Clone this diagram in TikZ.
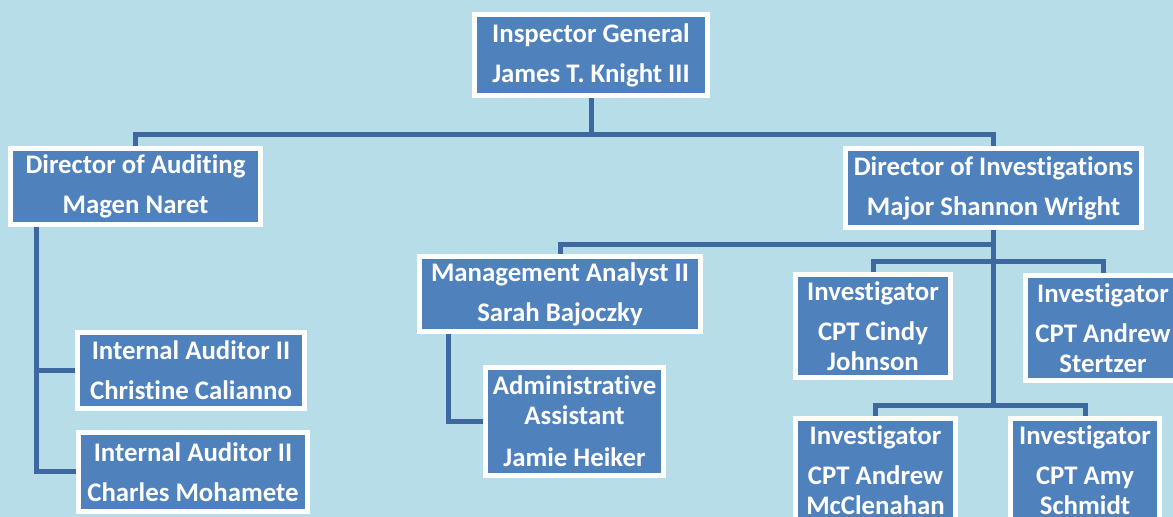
\documentclass[tikz,border=0pt]{standalone}
\usepackage{fontspec}
\setmainfont{Carlito}[Ligatures=NoCommon]
\usetikzlibrary{backgrounds}

\definecolor{paneblue}{HTML}{B7DDE8}
\definecolor{boxblue}{HTML}{4F81BD}
\definecolor{linkblue}{HTML}{3D69A0}

\begin{document}
\begin{tikzpicture}[
  x=0.5pt, y=-0.5pt,
  box/.style={rectangle, draw=white, line width=2.5pt, fill=boxblue,
              text=white, align=center, inner sep=0pt,
              font=\fontsize{13.4}{15}\selectfont\bfseries},
  link/.style={draw=linkblue, line width=2.5pt}
]
\clip (0,0) rectangle (1173,517);

% Top
\node[box, minimum width=116.5pt, minimum height=40.5pt] (ig) at (591,55)
  {Inspector General\\[5pt]James T. Knight III};

% Directors
\node[box, minimum width=125pt, minimum height=38pt] (doa) at (135.5,186.5)
  {Director of Auditing\\[5pt]Magen Naret};
\node[box, minimum width=148pt, minimum height=39.5pt] (doi) at (993.5,188)
  {Director of Investigations\\[5pt]Major Shannon Wright};

% Auditing staff
\node[box, minimum width=113.5pt, minimum height=38pt] (ia1) at (191,370.5)
  {Internal Auditor II\\[5pt]Christine Calianno};
\node[box, minimum width=114.5pt, minimum height=39.5pt] (ia2) at (193,472)
  {Internal Auditor II\\[5pt]Charles Mohamete};

% Analyst and assistant
\node[box, minimum width=140.5pt, minimum height=37.5pt] (ma) at (560,294)
  {Management Analyst II\\[5pt]Sarah Bajoczky};
\node[box, minimum width=89pt, minimum height=54pt] (adm) at (574.5,421.5)
  {Administrative\\Assistant\\[6pt]Jamie Heiker};

% Investigators
\node[box, minimum width=77.5pt, minimum height=51.5pt] (inv1) at (873,326)
  {Investigator\\[5pt]CPT Cindy\\Johnson};
\node[box, minimum width=77.5pt, minimum height=52.5pt] (inv2) at (1103,328)
  {Investigator\\[5pt]CPT Andrew\\Stertzer};
\node[box, minimum width=80pt, minimum height=51.5pt] (inv3) at (875.5,470)
  {Investigator\\[5pt]CPT Andrew\\McClenahan};
\node[box, minimum width=74.5pt, minimum height=51.5pt] (inv4) at (1085,470)
  {Investigator\\[5pt]CPT Amy\\Schmidt};

% Bus lines
\coordinate (topbus) at (0,135);
\coordinate (mabus) at (0,245);
\coordinate (row1) at (0,262);
\coordinate (row2) at (0,406);
\coordinate (audspine) at (36,0);
\coordinate (maspine) at (448,0);

\begin{pgfonlayer}{background}
\fill[paneblue] (0,0) rectangle (1173,517);

\draw[link] (ig.south) -- (ig.south |- topbus) -| (doa.north);
\draw[link] (ig.south |- topbus) -| (doi.north);

\draw[link] (audspine |- doa.south) |- (ia2.west);
\draw[link] (audspine |- ia1.west) -- (ia1.west);

\draw[link] (doi.south) -- (doi.south |- row2);
\draw[link] (doi.south |- mabus) -| (ma.north);
\draw[link] (inv1.north) |- (doi.south |- row1) -| (inv2.north);
\draw[link] (inv3.north) |- (doi.south |- row2) -| (inv4.north);

\draw[link] (maspine |- ma.south) |- (adm.west);
\end{pgfonlayer}
\end{tikzpicture}
\end{document}
